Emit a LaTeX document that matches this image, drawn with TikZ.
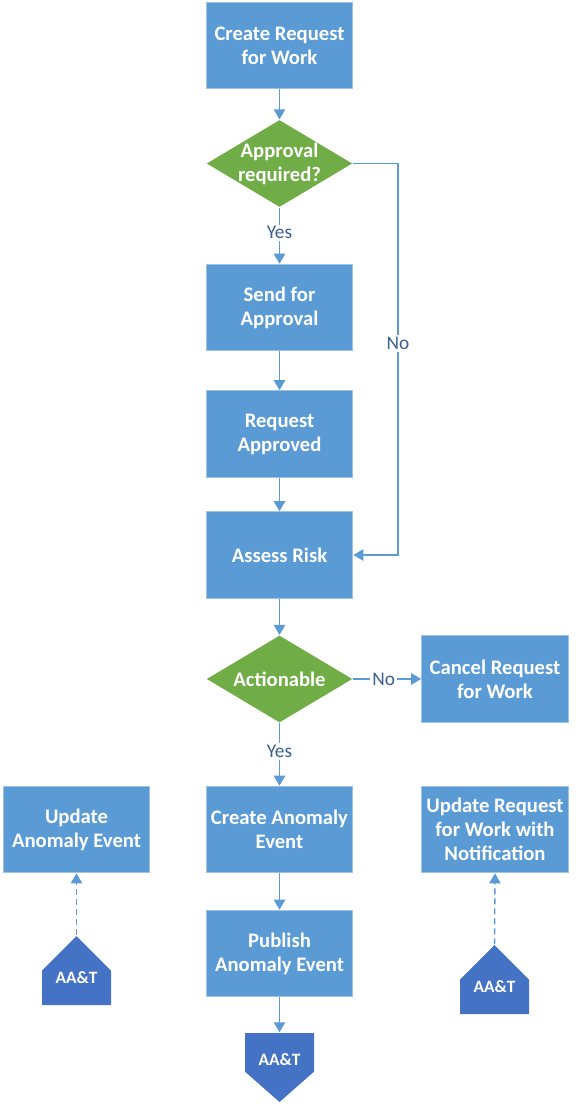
\documentclass[tikz,border=0pt]{standalone}
\usepackage{fontspec}
\setmainfont{Carlito}
\usepackage{xcolor}
\usepackage{tikz}
\usetikzlibrary{arrows.meta,calc,positioning}

\definecolor{taskblue}{HTML}{5B9BD5}
\definecolor{taskedge}{HTML}{9DC3E6}
\definecolor{choicegreen}{HTML}{70AD47}
\definecolor{pageblue}{HTML}{4472C4}
\definecolor{flowblue}{HTML}{5B9BD5}
\definecolor{lbltext}{HTML}{3B5F8C}

\newcommand{\taskfont}{\fontsize{15.5}{18}\selectfont\bfseries}
\newcommand{\pagefont}{\fontsize{13}{14}\selectfont\bfseries}

\begin{document}
\begin{tikzpicture}[x=0.75pt,y=-0.75pt,line width=1.1pt,
    task/.style={rectangle, fill=taskblue, draw=taskedge, line width=0.7pt, text=white,
      font=\taskfont, align=center, minimum width=110pt, minimum height=65pt, inner sep=0pt},
    choice/.style={rectangle, text=white, font=\taskfont, align=center,
      minimum width=109pt, minimum height=65pt, inner sep=0pt,
      path picture={\fill[choicegreen] (path picture bounding box.north)
        -- (path picture bounding box.east) -- (path picture bounding box.south)
        -- (path picture bounding box.west) -- cycle;}},
    pagedown/.style={rectangle, text=white, font=\pagefont, minimum size=51.75pt, inner sep=0pt,
      text height=0.7em, text depth=10.5pt,
      path picture={\fill[pageblue] (path picture bounding box.north west)
        -- (path picture bounding box.north east)
        -- ($(path picture bounding box.north east)!0.56!(path picture bounding box.south east)$)
        -- (path picture bounding box.south)
        -- ($(path picture bounding box.north west)!0.56!(path picture bounding box.south west)$)
        -- cycle;}},
    pageup/.style={rectangle, text=white, font=\pagefont, minimum size=51.75pt, inner sep=0pt,
      text height={0.7em+13pt}, text depth=0pt,
      path picture={\fill[pageblue] (path picture bounding box.north)
        -- (path picture bounding box.east) -- (path picture bounding box.south east)
        -- (path picture bounding box.south west) -- (path picture bounding box.west)
        -- cycle;}},
    flow/.style={draw=flowblue, -{Triangle[width=8.5pt,length=7.5pt]}},
    feed/.style={flow, dash pattern=on 4.5pt off 3pt},
    lbl/.style={fill=white, text=lbltext, font=\fontsize{14.5}{16}\selectfont, inner sep=1.5pt}]
  \useasboundingbox (0,0) rectangle (580,1105);

  \node[task] (create) at (279.5,45.5) {Create Request\\for Work};
  \node[choice] (approval) at (279.5,163.5) {Approval\\required?};
  \node[task] (send) at (279.5,307.5) {Send for\\Approval};
  \node[task] (approved) at (279.5,434) {Request\\Approved};
  \node[task] (assess) at (279.5,555) {Assess Risk};
  \node[choice] (actionable) at (279.5,679) {Actionable};
  \node[task] (cancel) at (495,679) {Cancel Request\\for Work};
  \node[task] (anomaly) at (279.5,829.5) {Create Anomaly\\Event};
  \node[task] (publish) at (279.5,953.5) {Publish\\Anomaly Event};
  \node[pagedown] (aatout) at (279.5,1067.5) {AA\&T};
  \node[task] (updanomaly) at (76.5,829.5) {Update\\Anomaly Event};
  \node[pageup] (aatleft) at (76.5,970.5) {AA\&T};
  \node[task] (updrequest) at (495,829.5) {Update Request\\for Work with\\Notification};
  \node[pageup] (aatright) at (494.5,979.5) {AA\&T};
  \coordinate (noturn) at (398,163.5);

  \draw[flow] (create) -- (approval);
  \draw[flow] (approval) -- node[lbl,pos=0.45]{Yes} (send);
  \draw[flow] (send) -- (approved);
  \draw[flow] (approved) -- (assess);
  \draw[flow] (approval.east) -- (noturn) |- node[lbl,pos=0.23]{No} (assess.east);
  \draw[flow] (assess) -- (actionable);
  \draw[flow] (actionable) -- node[lbl,pos=0.45]{No} (cancel);
  \draw[flow] (actionable) -- node[lbl,pos=0.45]{Yes} (anomaly);
  \draw[flow] (anomaly) -- (publish);
  \draw[flow] (publish) -- (aatout);
  \draw[feed] (aatleft.north) -- (updanomaly.south);
  \draw[feed] (aatright.north) -- (updrequest.south);
\end{tikzpicture}
\end{document}
